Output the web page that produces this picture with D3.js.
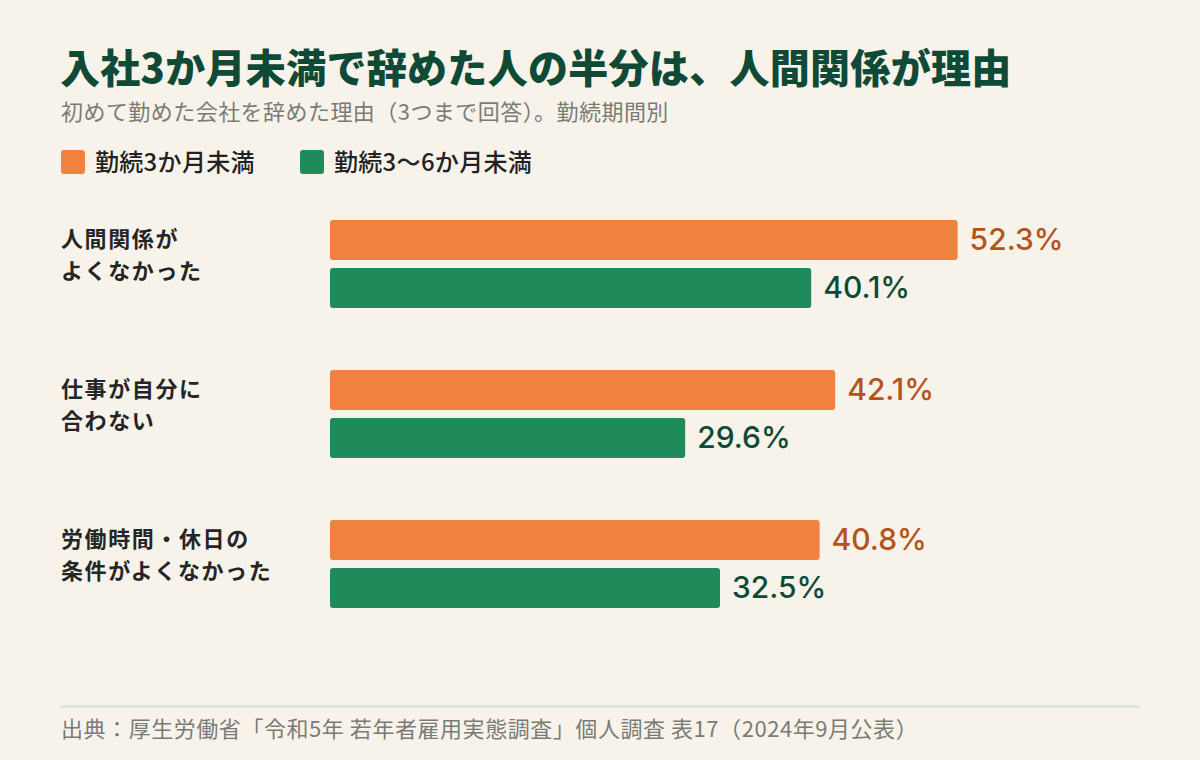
<!DOCTYPE html>
<html>
<head>
<meta charset="utf-8">
<script src="https://cdn.jsdelivr.net/npm/d3@7"></script>
<style>
  html, body { margin: 0; padding: 0; background: #f7f3ea; }
  svg { display: block; font-family: "Noto Sans CJK JP", "Noto Sans", sans-serif; }
</style>
</head>
<body>
<div id="chart"></div>
<script>
// reasons (split into two lines as in the original)
const categories = [
    ["人間関係が", "よくなかった"],
    ["仕事が自分に", "合わない"],
    ["労働時間・休日の", "条件がよくなかった"]
];
const seriesNames = ["勤続3か月未満", "勤続3〜6か月未満"];
const under3 = [52.3, 42.1, 40.8];
const from3to6 = [40.1, 29.6, 32.5];

const title = "入社3か月未満で辞めた人の半分は、人間関係が理由";
const subtitle = "初めて勤めた会社を辞めた理由（3つまで回答）。勤続期間別";
const source = "出典：厚生労働省「令和5年 若年者雇用実態調査」個人調査 表17（2024年9月公表）";

render();

function render() {
    const width = 1200, height = 760;
    const barColors = ["#ee823e", "#1f8b5b"];
    const valueColors = ["#b4531b", "#0f4a36"];

    const svg = d3.select("#chart").append("svg")
        .attr("width", width)
        .attr("height", height);

    svg.append("rect")
        .attr("width", width).attr("height", height)
        .attr("fill", "#f7f3ea");

    // title + subtitle
    svg.append("text")
        .attr("x", 60).attr("y", 83)
        .attr("font-size", 40).attr("font-weight", 900)
        .attr("letter-spacing", 0.3)
        .attr("fill", "#0f4a36")
        .text(title);

    svg.append("text")
        .attr("x", 61).attr("y", 120)
        .attr("font-size", 22)
        .attr("letter-spacing", 0.45)
        .attr("fill", "#7b7b76")
        .text(subtitle);

    // legend
    const legendX = [61, 300];
    const legend = svg.selectAll(".legend")
        .data(seriesNames)
        .enter().append("g")
        .attr("class", "legend")
        .attr("transform", (d, i) => `translate(${legendX[i]}, 150)`);

    legend.append("rect")
        .attr("width", 24).attr("height", 24)
        .attr("rx", 3)
        .attr("fill", (d, i) => barColors[i]);

    legend.append("text")
        .attr("x", 34).attr("y", 21)
        .attr("font-size", 24).attr("font-weight", 500)
        .attr("letter-spacing", 0.3)
        .attr("fill", "#222")
        .text(d => d);

    // scales
    const x = d3.scaleLinear()
        .domain([0, 60])
        .range([330, 1050]);

    const y = d3.scaleBand()
        .domain(d3.range(categories.length))
        .range([220, 670])
        .paddingInner(0)
        .paddingOuter(0);

    const barH = 40, barGap = 8;

    const group = svg.selectAll(".group")
        .data(categories)
        .enter().append("g")
        .attr("class", "group")
        .attr("transform", (d, i) => `translate(0, ${y(i)})`);

    // category labels
    group.append("text")
        .attr("x", 61)
        .attr("font-size", 22).attr("font-weight", 700)
        .attr("letter-spacing", 1.6)
        .attr("fill", "#252525")
        .selectAll("tspan")
        .data(d => d)
        .enter().append("tspan")
        .attr("x", 61)
        .attr("y", (d, i) => 27 + i * 32)
        .text(d => d);

    const series = [under3, from3to6];

    series.forEach((vals, s) => {
        group.append("rect")
            .attr("x", x(0))
            .attr("y", s * (barH + barGap))
            .attr("width", (d, i) => x(vals[i]) - x(0))
            .attr("height", barH)
            .attr("rx", 3)
            .attr("fill", barColors[s]);

        group.append("text")
            .attr("x", (d, i) => x(vals[i]) + 12)
            .attr("y", s * (barH + barGap) + barH / 2)
            .attr("dy", "0.34em")
            .attr("font-family", "Inter, 'Noto Sans', sans-serif")
            .attr("font-size", 30).attr("font-weight", 500)
            .attr("fill", valueColors[s])
            .text((d, i) => vals[i].toFixed(1) + "%");
    });

    // footer
    svg.append("line")
        .attr("x1", 60).attr("x2", 1140)
        .attr("y1", 706.5).attr("y2", 706.5)
        .attr("stroke", "#cde3d4").attr("stroke-width", 2);

    svg.append("text")
        .attr("x", 61).attr("y", 737)
        .attr("font-size", 22)
        .attr("letter-spacing", 0.55)
        .attr("fill", "#7b7b76")
        .text(source);
}
</script>
</body>
</html>
